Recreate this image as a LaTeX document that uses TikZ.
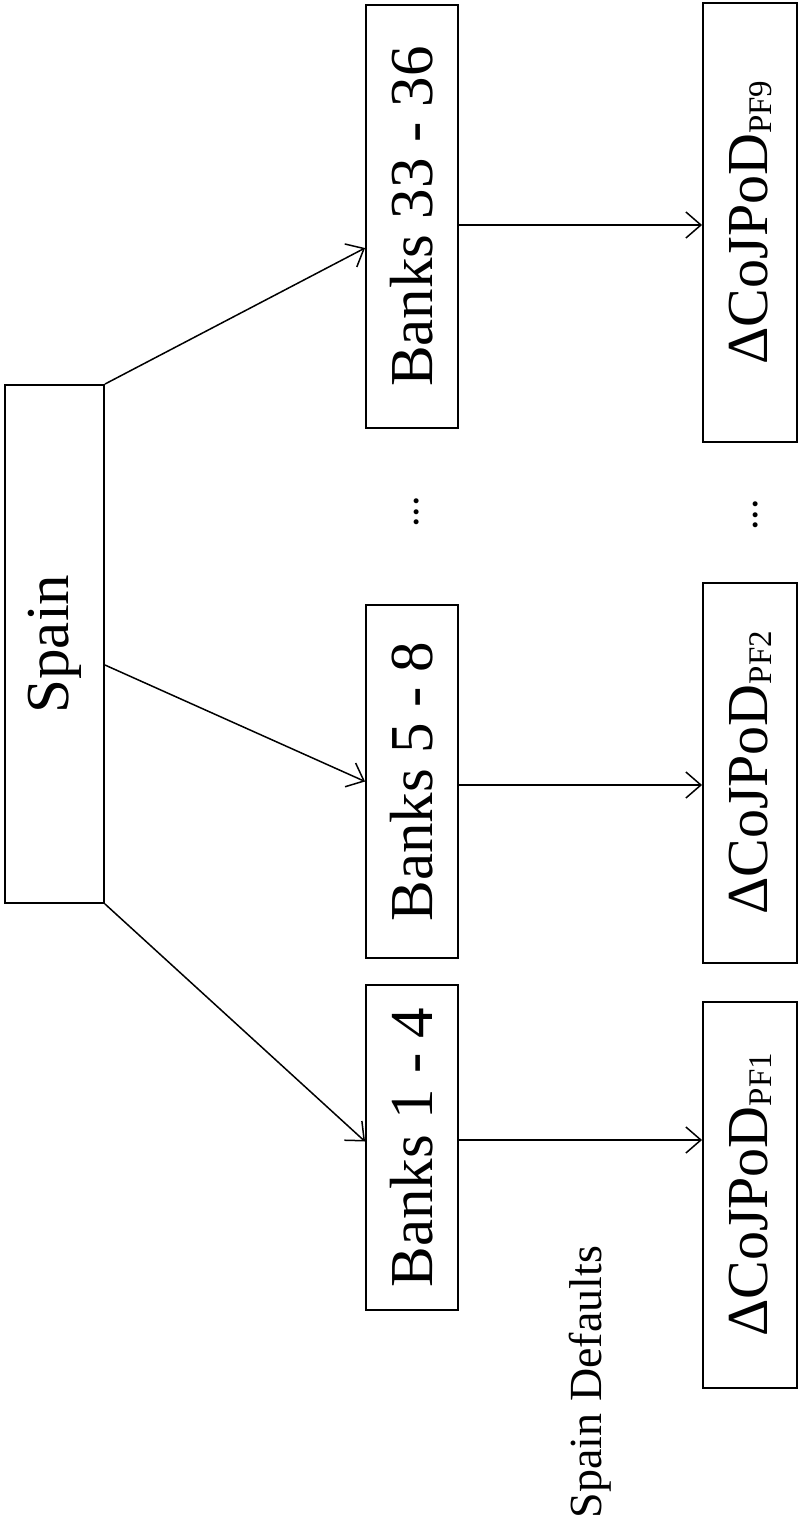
\documentclass[tikz,border=0pt]{standalone}
\usepackage{fontspec}
\setmainfont{Liberation Serif}
\usepackage{graphicx}
\usetikzlibrary{arrows.meta}

\tikzset{
  box/.style={draw=black, line width=1.9pt, fill=white, inner sep=0pt, anchor=center},
  conn/.style={draw=black, line width=1.5pt, -{Straight Barb[length=15pt,width=26pt,line width=1.5pt]}},
  bigtxt/.style={font=\fontsize{61}{64}\selectfont},
  pftxt/.style={font=\fontsize{58}{62}\selectfont},
  notetxt/.style={font=\fontsize{46}{50}\selectfont, inner sep=0pt, rotate=90, anchor=base},
  dottxt/.style={font=\fontsize{42}{46}\selectfont, inner sep=0pt, rotate=90, anchor=base}
}

\newcommand{\upright}[1]{\rotatebox{90}{#1}}
\newcommand{\pfsub}[1]{\raisebox{-4pt}{\fontsize{33}{36}\selectfont #1}}

\begin{document}
\begin{tikzpicture}[x=1pt, y=-1pt]
  \useasboundingbox (0,0) rectangle (800,1522);

  % root
  \node[box, bigtxt, minimum width=99pt, minimum height=518pt] (spain) at (54.5,644) {\upright{Spain}};

  % bank groups
  \node[box, bigtxt, minimum width=92pt, minimum height=423pt] (b33) at (412,216.5) {\upright{Banks 33 - 36}};
  \node[box, bigtxt, minimum width=92pt, minimum height=353pt] (b58) at (412,781.5) {\upright{Banks 5 - 8}};
  \node[box, bigtxt, minimum width=92pt, minimum height=325pt] (b14) at (412,1147.5) {\upright{Banks 1 - 4}};

  % measures per group
  \node[box, pftxt, minimum width=94pt, minimum height=439pt] (p9) at (750,222.5) {\upright{ΔCoJPoD\pfsub{PF9}}};
  \node[box, pftxt, minimum width=94pt, minimum height=380pt] (p2) at (750,773) {\upright{ΔCoJPoD\pfsub{PF2}}};
  \node[box, pftxt, minimum width=94pt, minimum height=386pt] (p1) at (750,1195) {\upright{ΔCoJPoD\pfsub{PF1}}};

  % elided groups
  \node[dottxt] (dl) at (418,512) {...};
  \node[dottxt] (dr) at (757,515) {...};

  % caption
  \node[notetxt] (cap) at (601,1382) {Spain Defaults};

  % root to groups
  \draw[conn] (spain.north east) -- ([yshift=-31.5pt]b33.west);
  \draw[conn] ([yshift=-21pt]spain.east) -- (b58.west);
  \draw[conn] (spain.south east) -- ([yshift=6pt]b14.west);

  % groups to measures
  \draw[conn] ([yshift=-8.5pt]b33.east) -- ([yshift=-8.5pt]b33.east -| p9.west);
  \draw[conn] ([yshift=-3.5pt]b58.east) -- ([yshift=-3.5pt]b58.east -| p2.west);
  \draw[conn] ([yshift=7.5pt]b14.east) -- ([yshift=7.5pt]b14.east -| p1.west);
\end{tikzpicture}
\end{document}
